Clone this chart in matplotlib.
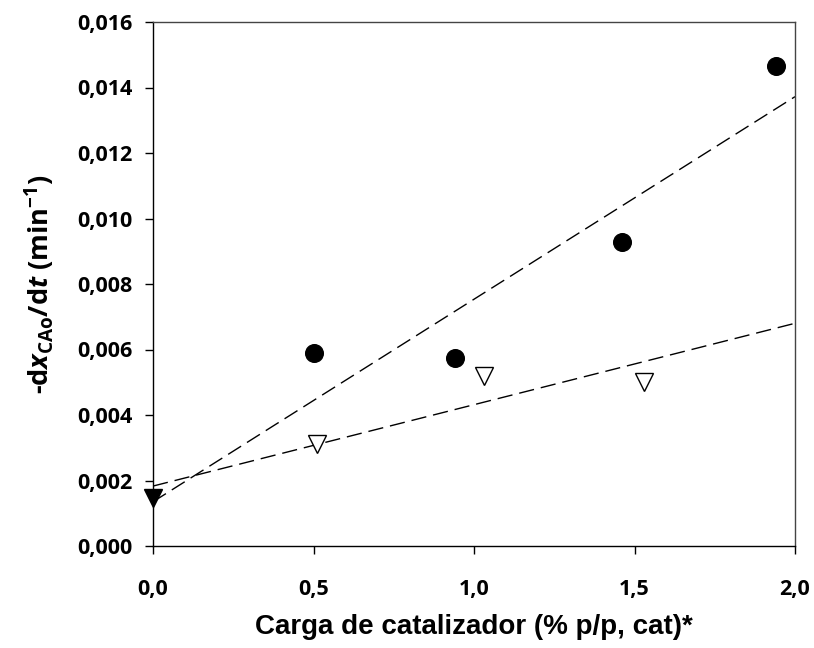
import matplotlib
matplotlib.use("Agg")
import matplotlib.pyplot as plt
from matplotlib import font_manager as fm
from matplotlib.ticker import FixedLocator


def _w(f):
    w = f.weight
    if isinstance(w, str):
        w = fm.weight_dict.get(w, 400)
    return w


def pick_family(cands):
    for fam in cands:
        bold = [f for f in fm.fontManager.ttflist if f.name == fam and _w(f) >= 600 and f.style == "normal"]
        if bold:
            return fam
    return "DejaVu Sans"


FAM = pick_family(["Open Sans", "Noto Sans", "Lato", "Roboto"])
plt.rcParams["mathtext.fontset"] = "custom"
plt.rcParams["mathtext.rm"] = FAM + ":bold"
plt.rcParams["mathtext.bf"] = FAM + ":bold"
plt.rcParams["mathtext.it"] = FAM + ":italic:bold"

circle_x = [0.50, 0.94, 1.46, 1.94]
circle_y = [0.00589, 0.00574, 0.00928, 0.01465]
tri_open_x = [0.51, 1.03, 1.53]
tri_open_y = [0.00310, 0.00520, 0.00500]
tri_fill_x = [0.0]
tri_fill_y = [0.00147]
fit1_x = [0.0, 2.0]
fit1_y = [0.00135, 0.01372]
fit2_x = [0.0, 2.0]
fit2_y = [0.00183, 0.00680]
xticks = [0.0, 0.5, 1.0, 1.5, 2.0]
xticklabels = ["0,0", "0,5", "1,0", "1,5", "2,0"]
yticks = [0.000, 0.002, 0.004, 0.006, 0.008, 0.010, 0.012, 0.014, 0.016]
yticklabels = ["0,000", "0,002", "0,004", "0,006", "0,008", "0,010", "0,012", "0,014", "0,016"]

fig = plt.figure(figsize=(8.14, 6.48), dpi=100)
ax = fig.add_axes([153/814, 1 - 546/648, (795-153)/814, (546-22)/648])

ax.plot(fit1_x, fit1_y, color="black", lw=1.0, ls=(0, (11, 5)), zorder=2)
ax.plot(fit2_x, fit2_y, color="black", lw=1.0, ls=(0, (11, 5)), zorder=2)
ax.plot(circle_x, circle_y, "o", color="black", ms=12.7, zorder=3, clip_on=False)
ax.plot(tri_open_x, tri_open_y, "v", mfc="white", mec="black", mew=1.0, ms=13, zorder=3, clip_on=False)
ax.plot(tri_fill_x, tri_fill_y, "v", color="black", ms=13, zorder=3, clip_on=False)

ax.set_xlim(0, 2.0)
ax.set_ylim(0, 0.016)
ax.xaxis.set_major_locator(FixedLocator(xticks))
ax.yaxis.set_major_locator(FixedLocator(yticks))
ax.set_xticklabels(xticklabels)
ax.set_yticklabels(yticklabels)
for lab in ax.get_xticklabels() + ax.get_yticklabels():
    lab.set_fontfamily(FAM)
    lab.set_fontweight("bold")
    lab.set_fontsize(15.5)
ax.tick_params(direction="out", length=6, width=1.0, top=False, right=False)
ax.tick_params(axis="y", pad=9)
ax.tick_params(axis="x", pad=18)
for s in ["left", "bottom"]:
    ax.spines[s].set_linewidth(1.0)
for s in ["top", "right"]:
    ax.spines[s].set_linewidth(1.0)
    ax.spines[s].set_color("#444444")

ax.set_xlabel("Carga de catalizador (% p/p, cat)*", fontfamily="Liberation Sans",
              fontweight="bold", fontsize=20, labelpad=10)
ax.set_ylabel(r"-d$\mathit{x}_{\mathrm{CAo}}$/d$\mathit{t}$ (min$^{\mathrm{-1}}$)",
              fontfamily=FAM, fontweight="bold", fontsize=19.5, labelpad=14)

fig.savefig("out.png", dpi=100)
